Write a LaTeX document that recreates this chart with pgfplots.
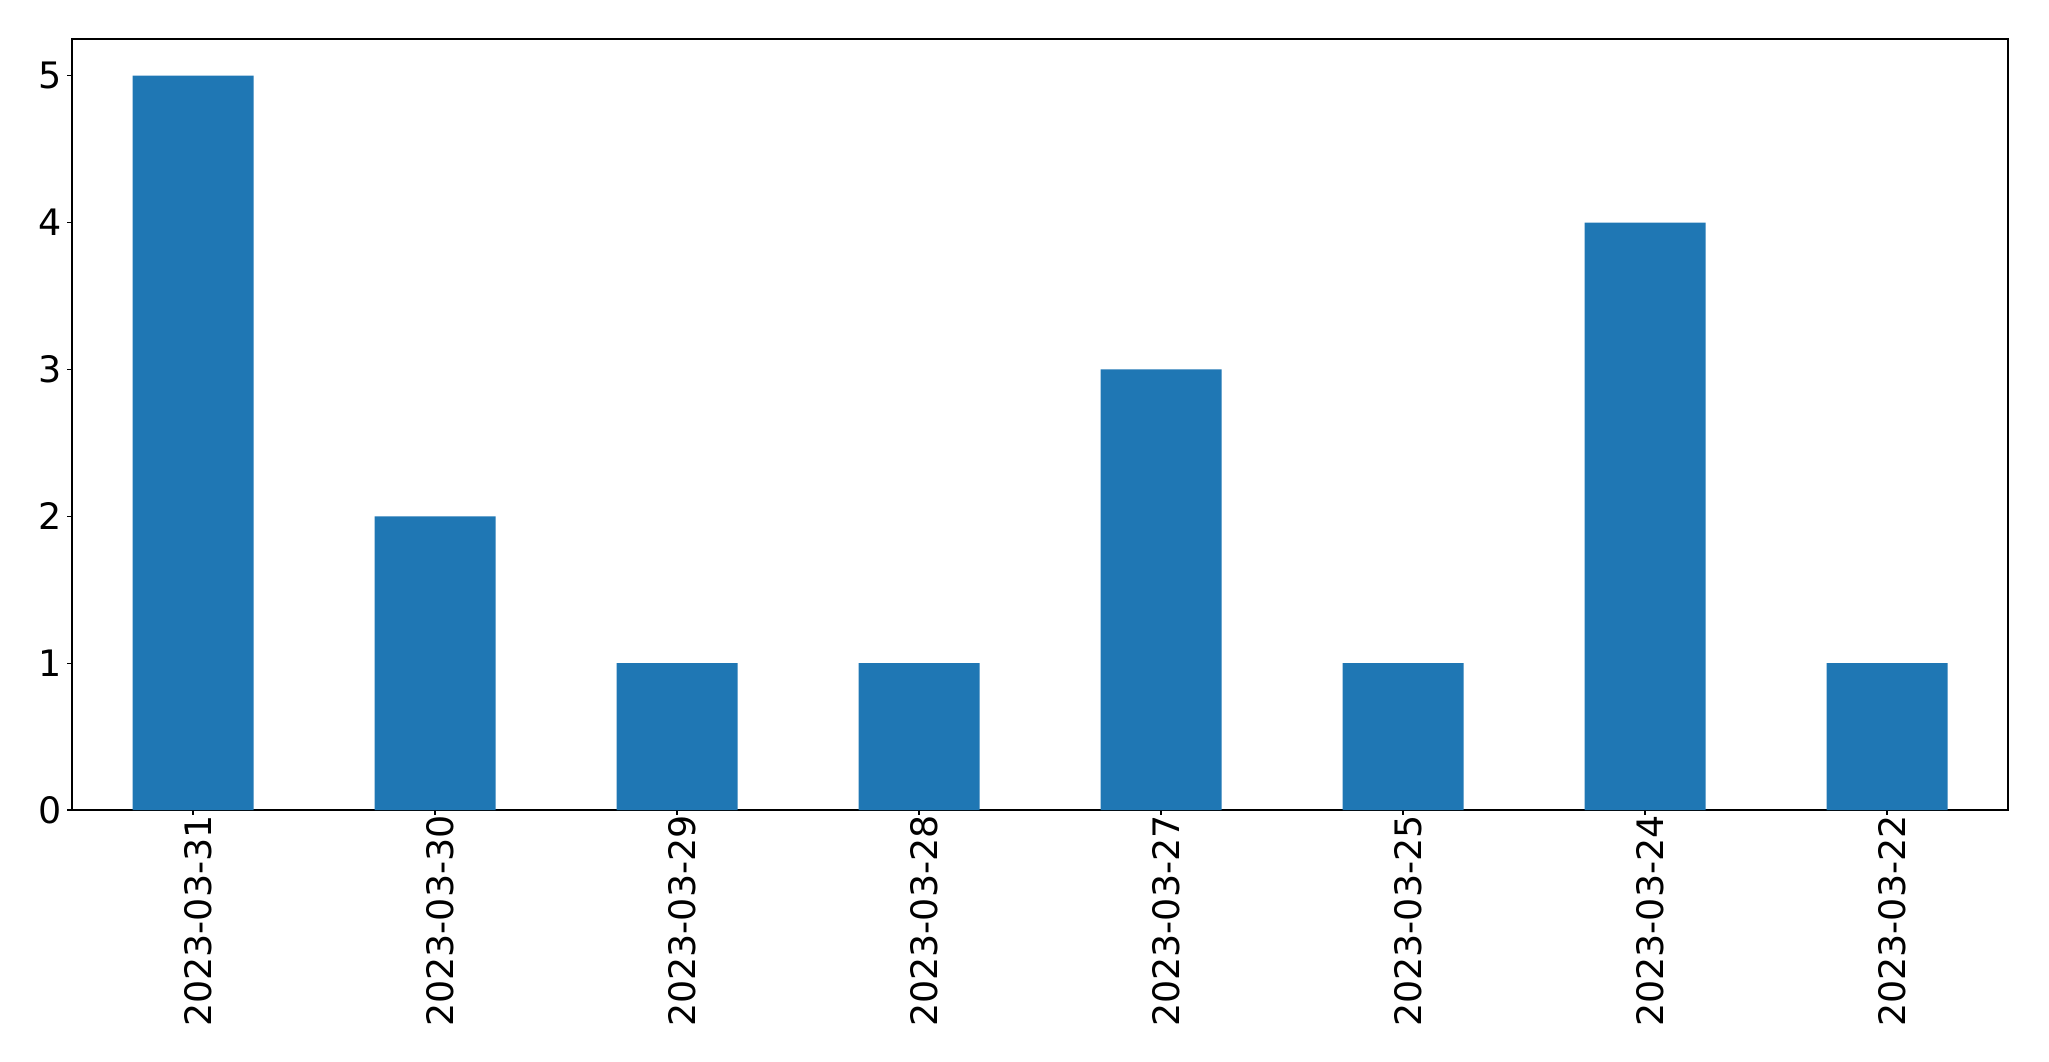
\documentclass[border=0pt]{standalone}
\usepackage{pgfplots}
\pgfplotsset{compat=1.18}
\usepackage{fontspec}
\setmainfont{DejaVu Sans}
\definecolor{mplblue}{HTML}{1F77B4}
\begin{document}
\begin{tikzpicture}
\path[use as bounding box] (0,0) rectangle (1024.5pt,530.5pt);
\begin{axis}[
  at={(36pt,125.5pt)}, anchor=south west,
  scale only axis, width=968pt, height=385.5pt,
  xmin=-0.5, xmax=7.5, ymin=0, ymax=5.25,
  xtick={0,1,2,3,4,5,6,7},
  xticklabels={2023-03-31,2023-03-30,2023-03-29,2023-03-28,2023-03-27,2023-03-25,2023-03-24,2023-03-22},
  ytick={0,1,2,3,4,5},
  tick align=outside, tick pos=left,
  major tick length=2.43pt,
  every tick/.style={black, line width=0.55pt},
  axis line style={line width=0.55pt},
  /pgf/number format/assume math mode=true,
  ticklabel style={font=\fontsize{18.2pt}{22pt}\selectfont},
  xticklabel style={rotate=90, anchor=east, inner sep=0pt, xshift=0pt, yshift=-2.4pt},
  yticklabel style={inner sep=0pt, xshift=-2.4pt},
  ybar, bar width=0.5, bar shift=0pt,
]
\addplot[fill=mplblue, draw=none] coordinates {(0,5) (1,2) (2,1) (3,1) (4,3) (5,1) (6,4) (7,1)};
\end{axis}
\end{tikzpicture}
\end{document}
